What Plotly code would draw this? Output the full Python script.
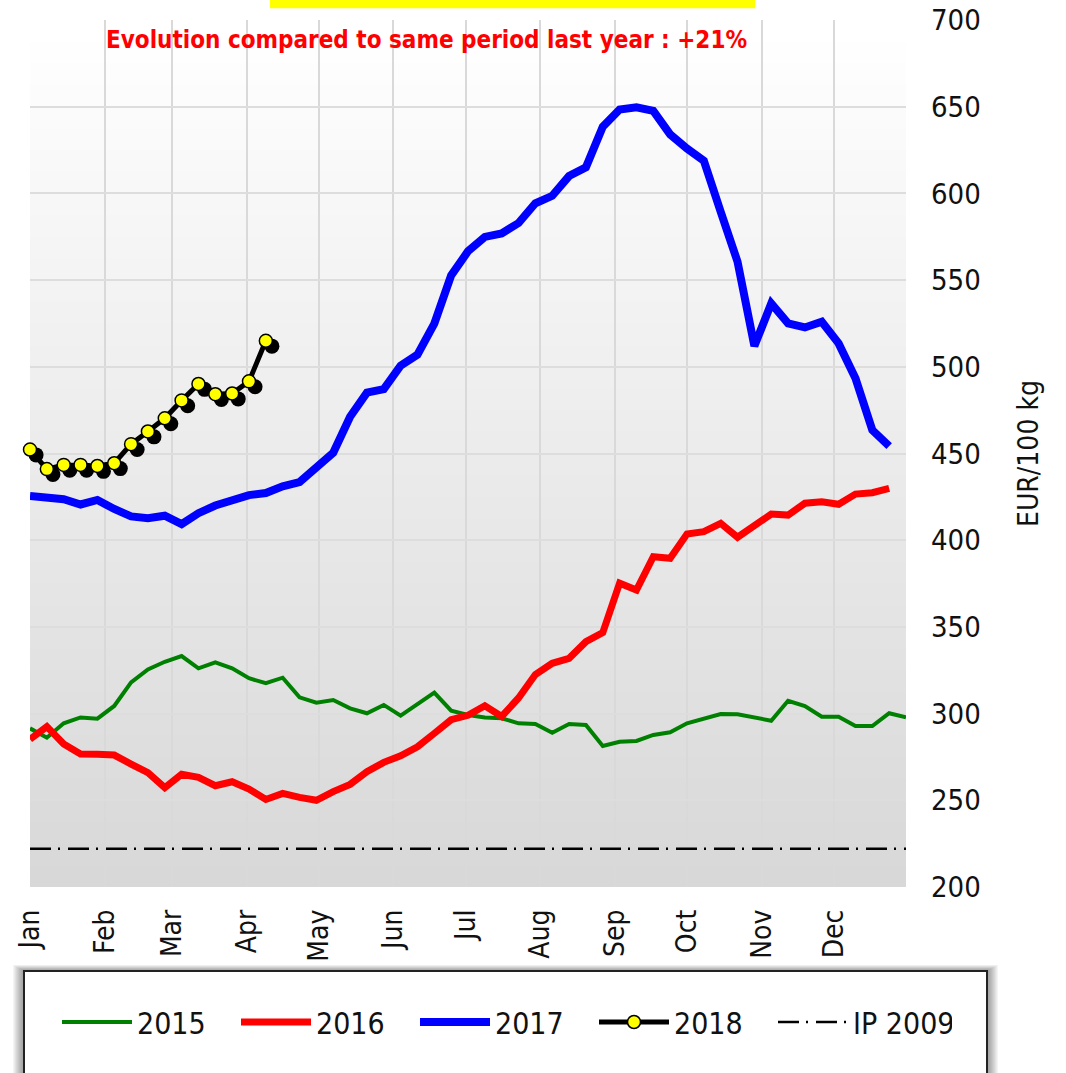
import plotly.graph_objects as go

# ---------------- data ----------------
y2015 = [291.5, 286.1, 294.4, 297.8, 297.1, 304.4, 318.0, 325.5, 329.9, 333.2,
         326.1, 329.6, 326.1, 320.4, 317.5, 320.7, 309.4, 306.3, 307.8, 303.0,
         300.2, 305.0, 298.8, 305.3, 312.1, 301.7, 299.2, 297.7, 297.3, 294.4,
         294.0, 289.0, 294.0, 293.4, 281.3, 283.8, 284.2, 287.7, 289.2, 294.4,
         297.3, 299.8, 299.6, 297.9, 295.9, 307.4, 304.4, 298.2, 298.2, 292.8,
         292.8, 300.2, 297.9]
y2016 = [285.2, 292.5, 282.5, 276.7, 276.5, 276.1, 270.9, 265.9, 257.3, 265.0,
         263.2, 258.4, 260.7, 256.5, 250.5, 254.0, 251.7, 250.0, 255.0, 259.2,
         266.5, 271.9, 275.7, 280.9, 288.6, 296.5, 299.0, 304.5, 298.4, 309.0,
         322.5, 329.0, 331.9, 341.5, 346.7, 375.2, 371.3, 390.5, 389.6, 403.6,
         404.9, 409.7, 401.7, 408.2, 415.1, 414.5, 421.3, 422.2, 420.7, 426.6,
         427.4, 429.9]
y2017 = [425.5, 424.6, 423.6, 420.6, 423.2, 418.0, 413.7, 412.7, 414.1, 409.3,
         415.6, 420.0, 422.6, 426.0, 427.2, 431.1, 433.5, 441.5, 450.4, 471.2,
         485.1, 487.1, 500.6, 507.0, 524.9, 552.7, 566.6, 574.9, 576.9, 582.9,
         594.3, 598.6, 610.0, 615.0, 638.4, 648.4, 649.6, 647.6, 634.0, 625.9,
         618.9, 589.4, 560.6, 512.0, 536.5, 525.0, 522.7, 526.0, 513.5, 493.4,
         463.5, 454.3]
y2018 = [452.3, 441.0, 443.4, 443.4, 442.8, 444.4, 455.4, 462.7, 470.3, 480.6,
         490.1, 484.2, 484.6, 491.6, 515.0]
ip_2009 = 222

month_labels = ["Jan", "Feb", "Mar", "Apr", "May", "Jun",
                "Jul", "Aug", "Sep", "Oct", "Nov", "Dec"]
month_start_day = [0, 31, 59, 90, 120, 151, 181, 212, 243, 273, 304, 334]
y_ticks = [200, 250, 300, 350, 400, 450, 500, 550, 600, 650, 700]

title_text = "Evolution compared to same period last year : +21%"

# ---------------- figure ----------------
FONT = "DejaVu Sans Condensed, DejaVu Sans, sans-serif"
W, H = 1066, 1073
ML, MR, MT, MB = 30, 160, 20, 186
PW = W - ML - MR
PH = H - MT - MB


def px_x(p):
    return (p - ML) / PW


def px_y(p):
    return (H - MB - p) / PH


weeks = lambda arr: list(range(len(arr)))
x_max = len(y2015) - 1
tickvals = [d / 7 for d in month_start_day]

fig = go.Figure()

fig.add_trace(go.Scatter(x=weeks(y2015), y=y2015, mode="lines", name="2015",
                         line=dict(color="#008000", width=4)))
fig.add_trace(go.Scatter(x=weeks(y2016), y=y2016, mode="lines", name="2016",
                         line=dict(color="#ff0000", width=7)))
fig.add_trace(go.Scatter(x=weeks(y2017), y=y2017, mode="lines", name="2017",
                         line=dict(color="#0000ff", width=8)))
# shadow of 2018 markers (drawn on shifted overlay axes)
fig.add_trace(go.Scatter(x=weeks(y2018), y=y2018, mode="markers",
                         xaxis="x2", yaxis="y2", showlegend=False,
                         hoverinfo="skip", cliponaxis=False,
                         marker=dict(color="#000000", size=15)))
fig.add_trace(go.Scatter(x=weeks(y2018), y=y2018, mode="lines+markers",
                         xaxis="x3", yaxis="y3", name="2018", cliponaxis=False,
                         line=dict(color="#000000", width=5),
                         marker=dict(color="#ffff00", size=13,
                                     line=dict(color="#000000", width=1.5))))
fig.add_trace(go.Scatter(x=weeks(y2015), y=[ip_2009] * len(y2015), mode="lines",
                         name="IP 2009",
                         line=dict(color="#000000", width=2.5,
                                   dash="21px,7px,2px,8px")))

shapes = []
# gradient background of plot area
N = 80
for i in range(N):
    t = i / (N - 1)
    c = int(round(216 + (255 - 216) * t))
    shapes.append(dict(type="rect", xref="paper", yref="paper",
                       x0=0, x1=1, y0=i / N, y1=(i + 1) / N + 0.002,
                       fillcolor=f"rgb({c},{c},{c})", line=dict(width=0),
                       layer="below"))
# yellow bar at top
shapes.append(dict(type="rect", xref="paper", yref="paper",
                   x0=px_x(270), x1=px_x(755), y0=px_y(8.3), y1=px_y(-2),
                   fillcolor="#ffff00", line=dict(width=0), layer="above"))
# legend box shadow
bx0, bx1, by0, by1 = 24, 987, 971, 1090
for k in range(10, 0, -1):
    shapes.append(dict(type="rect", xref="paper", yref="paper",
                       x0=px_x(bx0 - k * 1.1), x1=px_x(bx1 + k * 1.1),
                       y0=px_y(by1 + k), y1=px_y(by0 - k * 0.6),
                       fillcolor="rgba(0,0,0,0.045)", line=dict(width=0),
                       layer="above"))
shapes.append(dict(type="rect", xref="paper", yref="paper",
                   x0=px_x(bx0), x1=px_x(bx1), y0=px_y(by1), y1=px_y(by0),
                   fillcolor="#ffffff", line=dict(color="#222222", width=2),
                   layer="above"))

fig.update_layout(
    width=W, height=H,
    margin=dict(l=ML, r=MR, t=MT, b=MB, pad=0, autoexpand=False),
    paper_bgcolor="#ffffff", plot_bgcolor="#ffffff",
    font=dict(family=FONT, size=28, color="#111111"),
    showlegend=True,
    legend=dict(orientation="h", x=px_x(952), xanchor="right",
                y=px_y(1022), yanchor="middle",
                bgcolor="rgba(0,0,0,0)", borderwidth=0,
                itemwidth=70, entrywidth=94, entrywidthmode="pixels",
                font=dict(family=FONT, size=30, color="#111111")),
    xaxis=dict(range=[0, x_max], tickvals=tickvals, ticktext=month_labels,
               tickangle=-90, showgrid=True, gridcolor="#d9d9d9", gridwidth=2,
               zeroline=False, showline=False, ticks="", ticklabelstandoff=16,
               tickfont=dict(family=FONT, size=28, color="#111111"),
               fixedrange=True),
    yaxis=dict(range=[200, 700], tickvals=y_ticks, side="right",
               showgrid=True, gridcolor="#dddddd", gridwidth=2,
               zeroline=False, showline=False, ticks="", ticklabelstandoff=24,
               tickfont=dict(family=FONT, size=29, color="#111111"),
               title=dict(text="EUR/100 kg", standoff=38,
                          font=dict(family=FONT, size=28, color="#111111"))),
    xaxis2=dict(overlaying="x", range=[0 - 0.36, x_max - 0.36], visible=False),
    yaxis2=dict(overlaying="y", range=[200 + 3.1, 700 + 3.1], visible=False),
    xaxis3=dict(overlaying="x", range=[0, x_max], visible=False),
    yaxis3=dict(overlaying="y", range=[200, 700], visible=False),
    shapes=shapes,
    annotations=[dict(text="<b>" + title_text + "</b>", xref="paper", yref="paper",
                      x=px_x(426.5), y=px_y(40), xanchor="center", yanchor="middle",
                      showarrow=False,
                      font=dict(family=FONT, size=24, color="#ff0000"))],
)

fig.write_html("out.html",
               config={"displayModeBar": False},
               post_script="document.body.style.margin='0px';"
                           "document.body.style.padding='0px';")
